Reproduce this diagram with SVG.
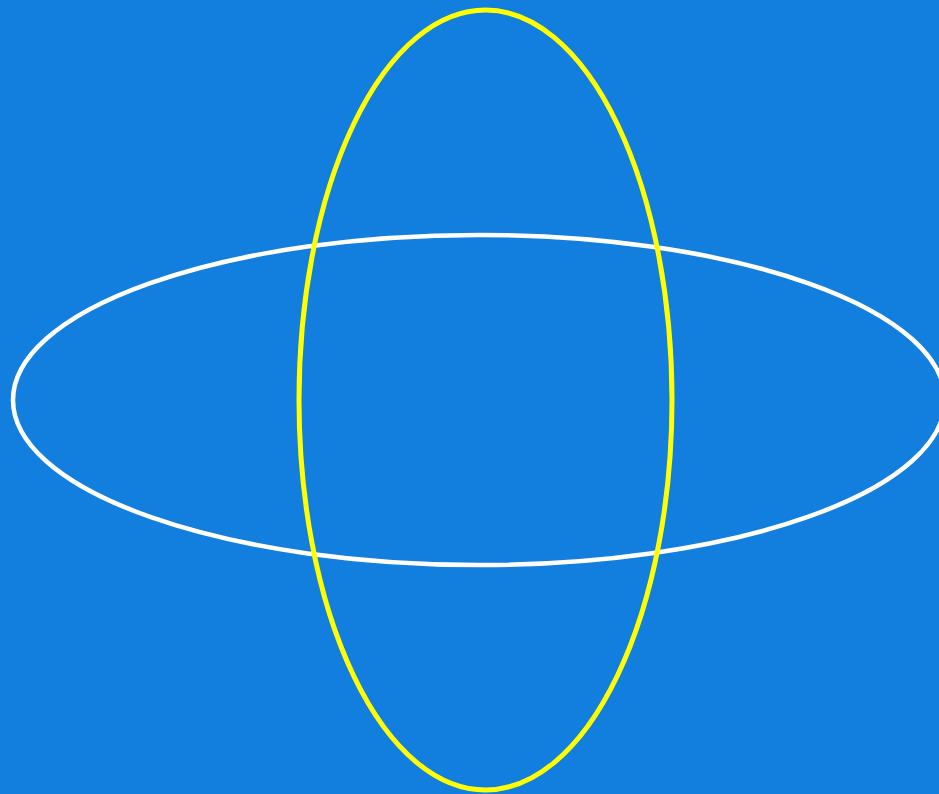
<svg xmlns="http://www.w3.org/2000/svg" width="939" height="794" viewBox="0 0 939 794">
<style>
.bg{fill:#127fdf}
.y{fill:none;stroke:#ffff00;stroke-width:5}
.w{fill:none;stroke:#ffffff;stroke-width:4.5}
</style>
<rect class="bg" x="0" y="0" width="939" height="794"/>
<g id="horizontal-ellipse"><ellipse class="w" cx="479" cy="400" rx="466" ry="165"/></g>
<g id="vertical-ellipse"><ellipse class="y" cx="485.5" cy="400" rx="186.5" ry="390"/></g>
</svg>
